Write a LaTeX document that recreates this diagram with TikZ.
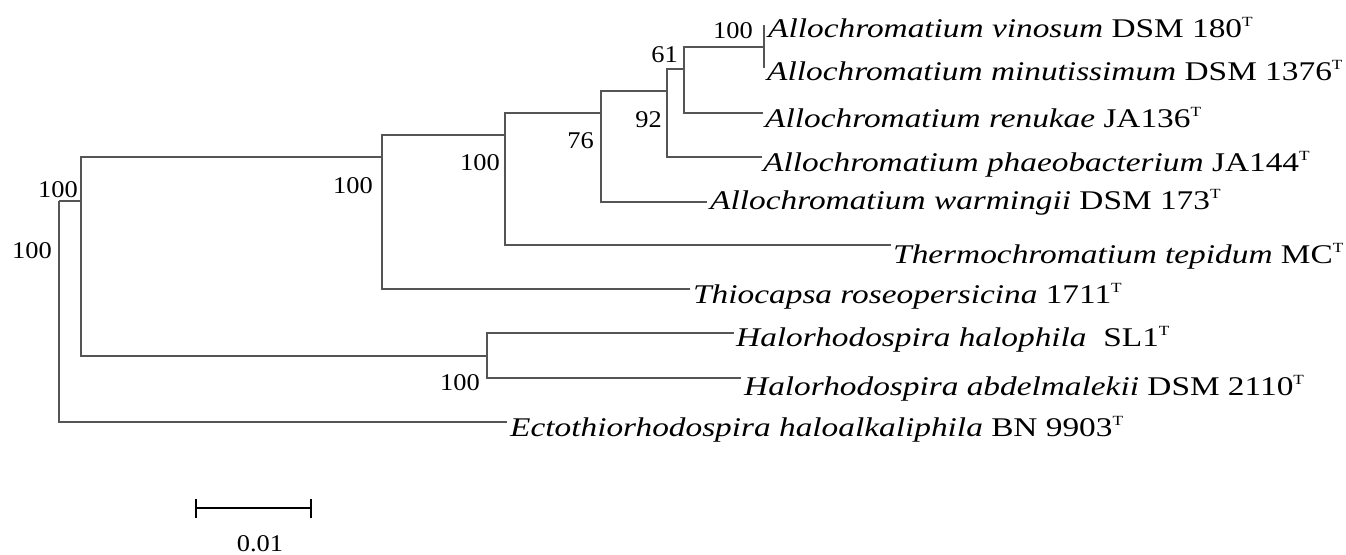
\documentclass[tikz,border=0pt]{standalone}
\usepackage{fontspec}
\setmainfont{Liberation Serif}[FakeStretch=1.235]
\newfontfamily\bootfont{Liberation Serif}[FakeStretch=1.1]
\newcommand\typestrain{\raisebox{10.5pt}{\fontsize{14}{14}\selectfont T}}
\newcommand\taxon[2]{\textit{#1}~#2\typestrain}
\begin{document}
\begin{tikzpicture}[x=1pt,y=-1pt,
  branch/.style={draw={rgb,255:red,85;green,85;blue,85}, line width=1.2pt},
  taxlabel/.style={anchor=base west, inner sep=0pt, font=\fontsize{27}{27}\selectfont},
  boot/.style={anchor=base east, inner sep=0pt, font=\bootfont\fontsize{24}{24}\selectfont},
  scalebar/.style={draw=black, line width=1.2pt}]
\useasboundingbox (0,0) rectangle (1346,554);

% internal nodes (x = depth, y = where the parent branch joins)
\coordinate (R) at (59,201);
\coordinate (A) at (81,201);
\coordinate (B) at (382,157);
\coordinate (H) at (487,356);
\coordinate (C) at (505,135);
\coordinate (D) at (601,113);
\coordinate (E) at (667,91);
\coordinate (F) at (684,69);
\coordinate (G) at (764,47);

% branch tips
\coordinate (lvin) at (764,25);
\coordinate (lmin) at (764,68);
\coordinate (lren) at (763,113);
\coordinate (lpha) at (762,157);
\coordinate (lwar) at (707,202);
\coordinate (lthe) at (891,245);
\coordinate (ltio) at (690,289);
\coordinate (lhal) at (734,333);
\coordinate (labd) at (741,378);
\coordinate (lect) at (507,422);

% branches
\path[branch] (R) |- (A);
\path[branch] (R) |- (lect);
\path[branch] (A) |- (B);
\path[branch] (A) |- (H);
\path[branch] (B) |- (C);
\path[branch] (B) |- (ltio);
\path[branch] (C) |- (D);
\path[branch] (C) |- (lthe);
\path[branch] (D) |- (E);
\path[branch] (D) |- (lwar);
\path[branch] (E) |- (F);
\path[branch] (E) |- (lpha);
\path[branch] (F) |- (G);
\path[branch] (F) |- (lren);
\path[branch] (G) |- (lvin);
\path[branch] (G) |- (lmin);
\path[branch] (H) |- (lhal);
\path[branch] (H) |- (labd);

% taxon labels
\node[taxlabel] (tvin) at (768,37) {\taxon{Allochromatium vinosum}{DSM 180}};
\node[taxlabel] (tmin) at (767,80) {\taxon{Allochromatium minutissimum}{DSM 1376}};
\node[taxlabel] (tren) at (765,127) {\taxon{Allochromatium renukae}{JA136}};
\node[taxlabel] (tpha) at (763,171) {\taxon{Allochromatium phaeobacterium}{JA144}};
\node[taxlabel] (twar) at (710,209) {\taxon{Allochromatium warmingii}{DSM 173}};
\node[taxlabel] (tthe) at (893,263) {\taxon{Thermochromatium tepidum}{MC}};
\node[taxlabel] (ttio) at (693,303) {\taxon{Thiocapsa roseopersicina}{1711}};
\node[taxlabel] (thal) at (736,346) {\textit{Halorhodospira halophila}~~SL1\typestrain};
\node[taxlabel] (tabd) at (744,395) {\taxon{Halorhodospira abdelmalekii}{DSM 2110}};
\node[taxlabel] (tect) at (510,436) {\taxon{Ectothiorhodospira haloalkaliphila}{BN 9903}};

% bootstrap values
\node[boot] (bG) at (753,38) {100};
\node[boot] (bF) at (678,62) {61};
\node[boot] (bE) at (662,127) {92};
\node[boot] (bD) at (594,148) {76};
\node[boot] (bC) at (500,170) {100};
\node[boot] (bB) at (373,193) {100};
\node[boot] (bA) at (78,197) {100};
\node[boot] (bR) at (52,258) {100};
\node[boot] (bH) at (480,390) {100};

% scale bar
\coordinate (s0) at (196,508);
\coordinate (s1) at (311,508);
\path[scalebar] (s0) -- (s1);
\path[scalebar] ([yshift=9pt]s0) -- ([yshift=-10pt]s0);
\path[scalebar] ([yshift=9pt]s1) -- ([yshift=-10pt]s1);
\node[boot, anchor=base] (sl) at (260,551) {0.01};
\end{tikzpicture}
\end{document}
